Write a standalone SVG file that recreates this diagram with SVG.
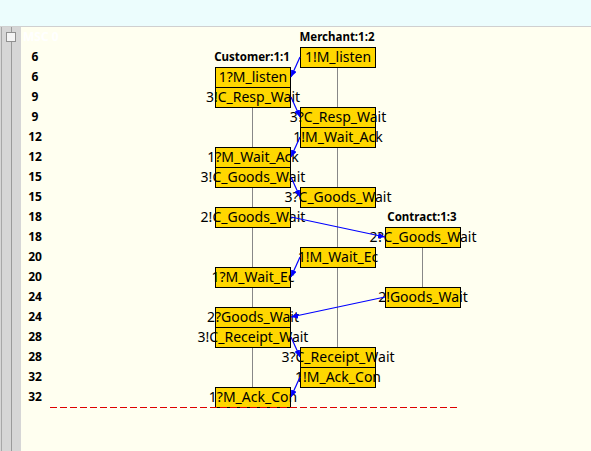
<svg xmlns="http://www.w3.org/2000/svg" width="591" height="451" viewBox="0 0 591 451">
<style>
.box{fill:#ffd700;stroke:#000;stroke-width:1}
.lbl{font-family:"Noto Sans","DejaVu Sans",sans-serif;font-size:14px;fill:#000;text-anchor:middle}
.hdr{font-family:"Noto Sans","DejaVu Sans",sans-serif;font-size:11.5px;font-weight:bold;fill:#000;text-anchor:middle}
.num{font-family:"Noto Sans","DejaVu Sans",sans-serif;font-size:12px;font-weight:bold;fill:#000;text-anchor:middle}
.life{stroke:#888;stroke-width:1}
.msg{stroke:#0000ff;stroke-width:1.2;fill:none;marker-end:url(#ah)}
</style>
<defs>
<marker id="ah" markerUnits="userSpaceOnUse" markerWidth="8" markerHeight="7" refX="7" refY="3" orient="auto">
<path d="M0,0 L7,3 L0,6 z" fill="#0000ff"/>
</marker>
</defs>
<!-- background -->
<rect x="0" y="0" width="591" height="451" fill="#fffff0"/>
<rect x="0" y="0" width="591" height="26" fill="#ecfdfd"/>
<line x1="0" y1="26.5" x2="591" y2="26.5" stroke="#d0d0d0"/>
<rect x="0" y="27" width="21" height="424" fill="#d6d6d6"/>
<line x1="1.5" y1="27" x2="1.5" y2="451" stroke="#a8a8a8"/>
<line x1="11.5" y1="27" x2="11.5" y2="451" stroke="#9a9a9a"/>
<rect x="6.5" y="32.5" width="9" height="9" fill="#f4f4f4" stroke="#909090"/>
<text x="23" y="41" font-family="Noto Sans, sans-serif" font-size="12" font-weight="bold" fill="#ffffff">MSC 0</text>
<!-- row numbers -->
<g id="rows">
<text class="num" x="35" y="61">6</text>
<text class="num" x="35" y="81">6</text>
<text class="num" x="35" y="101">9</text>
<text class="num" x="35" y="121">9</text>
<text class="num" x="35" y="141">12</text>
<text class="num" x="35" y="161">12</text>
<text class="num" x="35" y="181">15</text>
<text class="num" x="35" y="201">15</text>
<text class="num" x="35" y="221">18</text>
<text class="num" x="35" y="241">18</text>
<text class="num" x="35" y="261">20</text>
<text class="num" x="35" y="281">20</text>
<text class="num" x="35" y="301">24</text>
<text class="num" x="35" y="321">24</text>
<text class="num" x="35" y="341">28</text>
<text class="num" x="35" y="361">28</text>
<text class="num" x="35" y="381">32</text>
<text class="num" x="35" y="401">32</text>
</g>
<!-- lifelines -->
<g id="customer">
<text class="hdr" x="252" y="61">Customer:1:1</text>
<line class="life" x1="252.5" y1="87" x2="252.5" y2="407"/>
</g>
<g id="merchant">
<text class="hdr" x="337" y="41">Merchant:1:2</text>
<line class="life" x1="337.5" y1="67" x2="337.5" y2="387"/>
</g>
<g id="contract">
<text class="hdr" x="422" y="221">Contract:1:3</text>
<line class="life" x1="422.5" y1="247" x2="422.5" y2="287"/>
</g>
<!-- boxes -->
<g id="m1"><rect class="box" x="300.5" y="47.5" width="75" height="20"/><text class="lbl" x="338" y="62">1!M_listen</text></g>
<g id="c2"><rect class="box" x="215.5" y="67.5" width="75" height="20"/><text class="lbl" x="253" y="82">1?M_listen</text></g>
<g id="c3"><rect class="box" x="215.5" y="87.5" width="75" height="20"/><text class="lbl" x="253" y="102">3!C_Resp_Wait</text></g>
<g id="m4"><rect class="box" x="300.5" y="107.5" width="75" height="20"/><text class="lbl" x="338" y="122">3?C_Resp_Wait</text></g>
<g id="m5"><rect class="box" x="300.5" y="127.5" width="75" height="20"/><text class="lbl" x="338" y="142">1!M_Wait_Ack</text></g>
<g id="c6"><rect class="box" x="215.5" y="147.5" width="75" height="20"/><text class="lbl" x="253" y="162">1?M_Wait_Ack</text></g>
<g id="c7"><rect class="box" x="215.5" y="167.5" width="75" height="20"/><text class="lbl" x="253" y="182">3!C_Goods_Wait</text></g>
<g id="m8"><rect class="box" x="300.5" y="187.5" width="75" height="20"/><text class="lbl" x="338" y="202">3?C_Goods_Wait</text></g>
<g id="c9"><rect class="box" x="215.5" y="207.5" width="75" height="20"/><text class="lbl" x="253" y="222">2!C_Goods_Wait</text></g>
<g id="t10"><rect class="box" x="385.5" y="227.5" width="75" height="20"/><text class="lbl" x="423" y="242">2?C_Goods_Wait</text></g>
<g id="m11"><rect class="box" x="300.5" y="247.5" width="75" height="20"/><text class="lbl" x="338" y="262">1!M_Wait_Ec</text></g>
<g id="c12"><rect class="box" x="215.5" y="267.5" width="75" height="20"/><text class="lbl" x="253" y="282">1?M_Wait_Ec</text></g>
<g id="t13"><rect class="box" x="385.5" y="287.5" width="75" height="20"/><text class="lbl" x="423" y="302">2!Goods_Wait</text></g>
<g id="c14"><rect class="box" x="215.5" y="307.5" width="75" height="20"/><text class="lbl" x="253" y="322">2?Goods_Wait</text></g>
<g id="c15"><rect class="box" x="215.5" y="327.5" width="75" height="20"/><text class="lbl" x="253" y="342">3!C_Receipt_Wait</text></g>
<g id="m16"><rect class="box" x="300.5" y="347.5" width="75" height="20"/><text class="lbl" x="338" y="362">3?C_Receipt_Wait</text></g>
<g id="m17"><rect class="box" x="300.5" y="367.5" width="75" height="20"/><text class="lbl" x="338" y="382">1!M_Ack_Con</text></g>
<g id="c18"><rect class="box" x="215.5" y="387.5" width="75" height="20"/><text class="lbl" x="253" y="402">1?M_Ack_Con</text></g>
<!-- connectors -->
<g id="connectors">
<line class="msg" x1="300" y1="57" x2="291" y2="77"/>
<line class="msg" x1="291" y1="97" x2="300" y2="117"/>
<line class="msg" x1="300" y1="137" x2="291" y2="157"/>
<line class="msg" x1="291" y1="177" x2="300" y2="197"/>
<line class="msg" x1="291" y1="217" x2="385" y2="237"/>
<line class="msg" x1="300" y1="257" x2="291" y2="277"/>
<line class="msg" x1="385" y1="297" x2="291" y2="317"/>
<line class="msg" x1="291" y1="337" x2="300" y2="357"/>
<line class="msg" x1="300" y1="377" x2="291" y2="397"/>
</g>
<line x1="50" y1="407.5" x2="458" y2="407.5" stroke="#dd0000" stroke-width="1" stroke-dasharray="7,3"/>
</svg>
